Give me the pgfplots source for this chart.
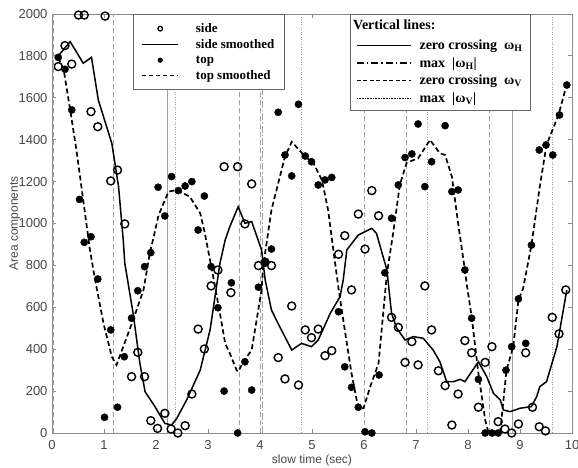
\documentclass[border=0pt]{standalone}
\usepackage{pgfplots}
\pgfplotsset{compat=1.18}
\usepackage{fontspec}
\setmainfont{Liberation Sans}
\newfontfamily\legfont{Liberation Serif}
\definecolor{axgray}{RGB}{140,140,140}
\definecolor{vgray}{RGB}{160,160,160}
\definecolor{tickc}{RGB}{70,70,70}
\pgfplotsset{
 lleg/.style={legend image code/.code={\draw[##1] (0pt,0pt) -- (36pt,0pt);}},
 mleg/.style={legend image code/.code={\draw[mark repeat=2,mark phase=2,##1] plot coordinates {(0pt,0pt) (18pt,0pt) (36pt,0pt)};}},
 vleg/.style={legend image code/.code={\draw[##1] (0pt,0pt) -- (54pt,0pt);}},
 vl/.style={vgray, line width=1pt, forget plot},
}
\begin{document}
\begin{tikzpicture}
\begin{axis}[name=main,
  width=520pt, height=419pt, scale only axis,
  xmin=0, xmax=10, ymin=0, ymax=2000,
  xtick={0,1,...,10}, ytick={0,200,...,2000},
  xticklabels={0,1,2,3,4,5,6,7,8,9,10},
  yticklabels={0,200,400,600,800,1000,1200,1400,1600,1800,2000},
  axis line style={axgray, line width=0.9pt},
  tick style={axgray, line width=0.8pt}, major tick length=4pt,
  tick align=inside,
  ticklabel style={font=\fontsize{13}{15}\selectfont, text=tickc},
  yticklabel style={xshift=-1pt},
  xticklabel style={yshift=-4pt},
  xlabel={slow time (sec)}, ylabel={Area components},
  xlabel style={font=\fontsize{12}{14}\selectfont, text=tickc, at={(axis description cs:0.5,0)}, anchor=center, yshift=-27pt},
  ylabel style={font=\fontsize{12}{14}\selectfont, text=tickc, at={(axis description cs:-0.0712,0.5)}, anchor=center},
  legend style={at={(0.156,1)}, anchor=north west, draw=black!60, line width=0.8pt, fill=white,
    font=\legfont\bfseries\fontsize{13}{15}\selectfont, inner xsep=8pt, inner ysep=7pt,
    row sep=1.7pt, /tikz/every odd column/.append style={column sep=15pt}},
  legend cell align=left,
  clip=false,
]
% vertical lines
\addplot[vl, dash pattern=on 5pt off 3pt] coordinates {(1.19,0) (1.19,2000)};
\addplot[vl] coordinates {(2.22,0) (2.22,2000)};
\addplot[vl, dash pattern=on 1pt off 1.5pt] coordinates {(2.38,0) (2.38,2000)};
\addplot[vl, dash pattern=on 5pt off 3pt] coordinates {(3.60,0) (3.60,2000)};
\addplot[vl, dash pattern=on 5pt off 3pt] coordinates {(4.00,0) (4.00,2000)};
\addplot[vl, dash pattern=on 7pt off 2pt on 1.5pt off 2pt] coordinates {(4.05,0) (4.05,2000)};
\addplot[vl, dash pattern=on 1pt off 1.5pt] coordinates {(4.80,0) (4.80,2000)};
\addplot[vl, dash pattern=on 5pt off 3pt] coordinates {(6.01,0) (6.01,2000)};
\addplot[vl, dash pattern=on 5pt off 3pt] coordinates {(6.82,0) (6.82,2000)};
\addplot[vl, dash pattern=on 1pt off 1.5pt] coordinates {(7.22,0) (7.22,2000)};
\addplot[vl, dash pattern=on 5pt off 3pt] coordinates {(8.41,0) (8.41,2000)};
\addplot[vl] coordinates {(8.86,0) (8.86,2000)};
\addplot[vl, dash pattern=on 1pt off 1.5pt] coordinates {(9.62,0) (9.62,2000)};
\addplot[vl, dash pattern=on 5pt off 3pt] coordinates {(0.03,0) (0.03,2000)};
% side smoothed
\addplot[black, line width=1.5pt, forget plot] coordinates {
(0.12,1800) (0.35,1868) (0.60,1765) (0.76,1793) (0.89,1590) (1.15,1383) (1.28,1176) (1.37,921) (1.40,810) (1.56,571) (1.69,333) (1.79,197) (1.98,126) (2.17,46) (2.30,38) (2.40,70) (2.59,158) (2.85,300) (3.04,492) (3.23,810) (3.33,921) (3.42,985) (3.58,1080) (3.71,1001) (3.84,1009) (4.03,874) (4.10,730) (4.22,587) (4.38,507) (4.61,396) (4.80,428) (4.99,412) (5.12,444) (5.35,571) (5.54,651) (5.60,730) (5.67,874) (5.89,945) (6.15,977) (6.24,953) (6.44,778) (6.53,571) (6.63,500) (6.79,444) (6.95,460) (7.14,452) (7.33,396) (7.46,340) (7.59,245) (7.72,245) (7.85,256) (7.94,245) (8.20,340) (8.36,269) (8.49,189) (8.62,158) (8.68,110) (8.81,102) (9.00,118) (9.22,126) (9.32,173) (9.38,221) (9.51,245) (9.71,412) (9.90,683)};
% top smoothed
\addplot[black, line width=1.7pt, dash pattern=on 5pt off 3pt, forget plot] coordinates {
(0.12,1790) (0.22,1741) (0.35,1542) (0.47,1351) (0.60,1112) (0.70,929) (0.73,873) (0.83,730) (0.99,524) (1.15,364) (1.24,325) (1.37,412) (1.56,539) (1.76,683) (1.88,858) (1.95,930) (2.05,1040) (2.24,1152) (2.40,1160) (2.65,1128) (2.85,1049) (2.94,953) (3.10,746) (3.23,571) (3.33,428) (3.42,380) (3.55,300) (3.58,293) (3.68,340) (3.84,396) (4.03,683) (4.06,794) (4.22,1064) (4.35,1192) (4.48,1319) (4.61,1390) (4.87,1319) (5.03,1287) (5.19,1208) (5.31,1064) (5.41,874) (5.51,690) (5.63,492) (5.76,285) (5.89,118) (5.99,118) (6.12,221) (6.28,333) (6.44,760) (6.56,953) (6.69,1185) (6.82,1290) (7.04,1311) (7.27,1399) (7.46,1335) (7.56,1327) (7.69,1223) (7.81,1001) (7.94,778) (7.97,720) (8.07,555) (8.20,285) (8.33,62) (8.39,6) (8.62,6) (8.74,300) (8.87,412) (8.97,635) (9.06,690) (9.22,897) (9.38,1176) (9.51,1375) (9.74,1518) (9.87,1637)};
% side points
\addplot[only marks, mark=o, mark size=4pt, line width=1.4pt, black, forget plot] coordinates {
(0.12,1749) (0.25,1849) (0.38,1761) (0.51,1995) (0.62,1995) (0.75,1534) (0.88,1462) (1.02,1990) (1.13,1203) (1.26,1255) (1.40,998) (1.53,269) (1.65,385) (1.78,269) (1.90,59) (2.03,22) (2.17,94) (2.29,19) (2.42,0) (2.56,35) (2.69,186) (2.81,496) (2.93,401) (3.06,702) (3.19,778) (3.31,1271) (3.44,670) (3.57,1271) (3.71,998) (3.84,1189) (3.97,799) (4.10,815) (4.22,799) (4.35,360) (4.48,258) (4.61,606) (4.74,229) (4.87,492) (4.99,455) (5.12,496) (5.25,369) (5.38,393) (5.51,853) (5.63,942) (5.76,683) (5.89,1045) (6.02,878) (6.15,1157) (6.28,1037) (6.53,552) (6.66,504) (6.79,337) (6.92,436) (7.04,325) (7.17,702) (7.30,492) (7.43,297) (7.56,226) (7.69,38) (7.81,186) (7.94,441) (8.07,383) (8.20,123) (8.33,337) (8.46,412) (8.58,54) (8.71,19) (8.84,0) (8.97,43) (9.11,383) (9.24,123) (9.37,30) (9.49,10) (9.62,552) (9.75,473) (9.88,683)};
% top points
\addplot[only marks, mark=*, mark size=3.6pt, black, forget plot] coordinates {
(0.12,1793) (0.25,1736) (0.38,1542) (0.53,1115) (0.62,910) (0.75,937) (0.88,735) (1.01,75) (1.13,492) (1.26,123) (1.39,364) (1.53,548) (1.65,679) (1.78,794) (1.90,861) (2.04,1173) (2.17,1036) (2.30,1224) (2.43,1157) (2.56,1179) (2.69,1200) (2.81,969) (2.93,1131) (3.06,794) (3.19,598) (3.31,200) (3.45,717) (3.57,0) (3.71,340) (3.84,205) (3.97,696) (4.10,813) (4.22,878) (4.35,1531) (4.48,1327) (4.61,1227) (4.74,1569) (4.87,1322) (4.99,1295) (5.12,1184) (5.25,1208) (5.38,1220) (5.51,579) (5.63,316) (5.76,218) (5.89,123) (6.02,6) (6.15,0) (6.29,277) (6.40,765) (6.53,1025) (6.66,1184) (6.79,1315) (6.92,1332) (7.04,1475) (7.17,1176) (7.30,1295) (7.56,1467) (7.69,1152) (7.81,1160) (7.94,778) (8.07,548) (8.20,256) (8.33,0) (8.46,0) (8.58,0) (8.73,300) (8.84,412) (8.97,640) (9.11,428) (9.22,897) (9.37,1351) (9.50,1375) (9.63,1327) (9.76,1518) (9.90,1661)};
% legend 1
\addlegendimage{only marks, mark=o, mark size=2.3pt, line width=1.3pt, black, mleg}
\addlegendentry{side}
\addlegendimage{black, line width=1.2pt, lleg}
\addlegendentry{side smoothed}
\addlegendimage{only marks, mark=*, mark size=2.2pt, black, mleg}
\addlegendentry{top}
\addlegendimage{black, line width=1.4pt, dash pattern=on 4pt off 3pt, lleg}
\addlegendentry{top smoothed}
\end{axis}
\begin{axis}[at={(main.south west)}, anchor=south west,
  width=520pt, height=419pt, scale only axis, hide axis,
  xmin=0, xmax=10, ymin=0, ymax=2000,
  legend style={at={(0.573,1)}, anchor=north west, draw=black!60, line width=0.8pt, fill=white,
    font=\legfont\bfseries\fontsize{14}{16}\selectfont, inner xsep=6pt, inner ysep=4pt,
    row sep=2.5pt, /tikz/every odd column/.append style={column sep=6pt},
    label={[anchor=north west, inner sep=3pt, yshift=-3pt, font=\legfont\bfseries\fontsize{14}{16}\selectfont]north west:Vertical lines:}},
  legend cell align=left,
]
\addlegendimage{empty legend}
\addlegendentry{\strut}
\addlegendimage{black, line width=1.2pt, vleg}
\addlegendentry{zero crossing \ ω\textsubscript{H}}
\addlegendimage{black, line width=1.2pt, dash pattern=on 7pt off 3pt on 1.5pt off 3pt, vleg}
\addlegendentry{max \ |ω\textsubscript{H}|}
\addlegendimage{black, line width=1.2pt, dash pattern=on 4pt off 2.5pt, vleg}
\addlegendentry{zero crossing \ ω\textsubscript{V}}
\addlegendimage{black, line width=1.2pt, dash pattern=on 0.8pt off 0.8pt, vleg}
\addlegendentry{max \ |ω\textsubscript{V}|}
\end{axis}
\pgfresetboundingbox
\path[use as bounding box] ([xshift=-52pt,yshift=-35pt]main.south west) rectangle ([xshift=6pt,yshift=14pt]main.north east);
\end{tikzpicture}
\end{document}
